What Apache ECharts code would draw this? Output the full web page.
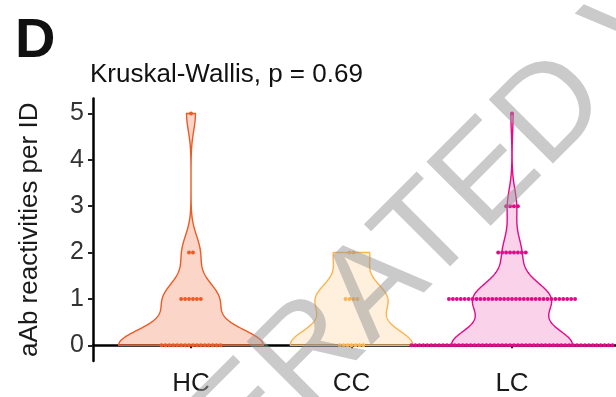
<!DOCTYPE html>
<html>
<head>
<meta charset="utf-8">
<script src="https://cdn.jsdelivr.net/npm/echarts@6/dist/echarts.min.js"></script>
<style>
  html, body { margin: 0; padding: 0; background: #ffffff; }
  #chart { width: 616px; height: 397px; }
</style>
</head>
<body>
<div id="chart"></div>
<script>
// Groups on the x axis
const groups = ['HC', 'CC', 'LC'];
// Reactivity levels (y values) that observations can take
const levels = [0, 1, 2, 3, 4, 5];
// Number of IDs at each level, per group
const hcCounts = [16, 6, 2, 0, 0, 1];
const ccCounts = [7, 4, 2, 0, 0, 0];
const lcCounts = [52, 33, 8, 4, 0, 1];
// Y axis tick labels
const yTicks = [0, 1, 2, 3, 4, 5];
// Kernel bandwidth and dot bin width (in y units)
const bandwidth = 0.37;
const binWidth = 0.085;

const title = 'Kruskal-Wallis, p = 0.69';
const yName = 'aAb reactivities per ID';

const lineColors = ['#EE5A24', '#FBB451', '#E5098A'];
const fillColors = ['rgba(238,90,36,0.25)', 'rgba(251,180,81,0.2)', 'rgba(229,9,138,0.18)'];
const FONT = '"Liberation Sans", Arial, Helvetica, sans-serif';

const countsByGroup = [hcCounts, ccCounts, lcCounts];

// Expand counts into raw observations
function observations(counts) {
  const obs = [];
  counts.forEach((c, i) => { for (let k = 0; k < c; k++) obs.push(levels[i]); });
  return obs;
}

// Gaussian kernel density over the observed range (trimmed violin)
function kde(obs, bw, nPts) {
  const lo = Math.min(...obs), hi = Math.max(...obs);
  const out = [];
  for (let i = 0; i < nPts; i++) {
    const y = lo + (hi - lo) * i / (nPts - 1);
    let s = 0;
    for (const o of obs) {
      const z = (y - o) / bw;
      s += Math.exp(-0.5 * z * z);
    }
    out.push([y, s / (obs.length * bw * Math.sqrt(2 * Math.PI))]);
  }
  return out;
}

const densities = countsByGroup.map(c => kde(observations(c), bandwidth, 256));
const maxDensity = Math.max(...densities.map(d => Math.max(...d.map(p => p[1]))));
const halfWidthMax = 0.45;

// Violin outlines: [groupIndex]
const violinData = groups.map((g, i) => [i]);

// Dot rows: [groupIndex, level, count]
const dotData = [];
countsByGroup.forEach((counts, gi) => {
  counts.forEach((c, li) => { if (c > 0) dotData.push([gi, levels[li], c]); });
});

const chart = echarts.init(document.getElementById('chart'), null, { renderer: 'canvas' });

const option = {
  backgroundColor: '#ffffff',
  animation: false,
  title: [
    { text: 'D', left: 10, top: 9,
      textStyle: { fontFamily: FONT, fontSize: 56, fontWeight: 'bold', color: '#111111' } },
    { text: title, left: 85, top: 57,
      textStyle: { fontFamily: FONT, fontSize: 26, fontWeight: 'normal', color: '#111111' } }
  ],
  grid: { left: 93, right: 0, top: 98.5, bottom: 34.7, containLabel: false },
  xAxis: {
    type: 'value',
    min: 0.3894,
    max: 3.648,
    splitLine: { show: false },
    axisLine: { show: true, lineStyle: { color: '#000000', width: 2.5 } },
    axisTick: { show: true, length: 3, customValues: [1, 2, 3],
      lineStyle: { color: '#222222', width: 2 } },
    axisLabel: {
      show: true, customValues: [1, 2, 3], margin: 10,
      formatter: v => groups[Math.round(v) - 1] || '',
      fontFamily: FONT, fontSize: 26, color: '#1a1a1a'
    }
  },
  yAxis: {
    type: 'value',
    min: -0.339,
    max: 5.322,
    name: yName,
    nameLocation: 'middle',
    nameGap: 50,
    nameRotate: 90,
    nameTextStyle: { fontFamily: FONT, fontSize: 26, color: '#1a1a1a' },
    splitLine: { show: false },
    axisLine: { show: true, lineStyle: { color: '#000000', width: 2.5 } },
    axisTick: { show: true, length: 5, customValues: yTicks,
      lineStyle: { color: '#222222', width: 2 } },
    axisLabel: { show: true, customValues: yTicks, margin: 9,
      fontFamily: FONT, fontSize: 25, color: '#333333' }
  },
  series: [
    {
      type: 'custom',
      name: 'violin',
      data: violinData,
      clip: false,
      z: 2,
      renderItem: function (params, api) {
        const gi = api.value(0);
        const dens = densities[gi];
        const cx = gi + 1;
        const left = [], right = [];
        dens.forEach(([y, d]) => {
          const hw = halfWidthMax * d / maxDensity;
          left.push(api.coord([cx - hw, y]));
          right.push(api.coord([cx + hw, y]));
        });
        const pts = left.concat(right.reverse());
        return {
          type: 'polygon',
          shape: { points: pts },
          style: { fill: fillColors[gi], stroke: lineColors[gi], lineWidth: 1.4 }
        };
      }
    },
    {
      type: 'custom',
      name: 'dots',
      data: dotData,
      clip: false,
      z: 3,
      renderItem: function (params, api) {
        const gi = api.value(0);
        const y = api.value(1);
        const n = api.value(2);
        const c = api.coord([gi + 1, y]);
        const step = api.size([0, binWidth])[1];
        const children = [];
        for (let k = 0; k < n; k++) {
          children.push({
            type: 'circle',
            shape: { cx: c[0] + (k - (n - 1) / 2) * step, cy: c[1], r: step * 0.5 },
            style: { fill: lineColors[gi] }
          });
        }
        return { type: 'group', children: children };
      }
    }
  ],
  graphic: [
    {
      type: 'text',
      z: 100,
      x: 13,
      y: 652,
      rotation: Math.PI / 4,
      silent: true,
      style: {
        text: 'GENERATED VERSION',
        font: '132px ' + FONT,
        fill: 'rgba(150,150,150,0.5)',
        textAlign: 'left',
        textVerticalAlign: 'middle'
      }
    }
  ]
};

chart.setOption(option);
</script>
</body>
</html>
